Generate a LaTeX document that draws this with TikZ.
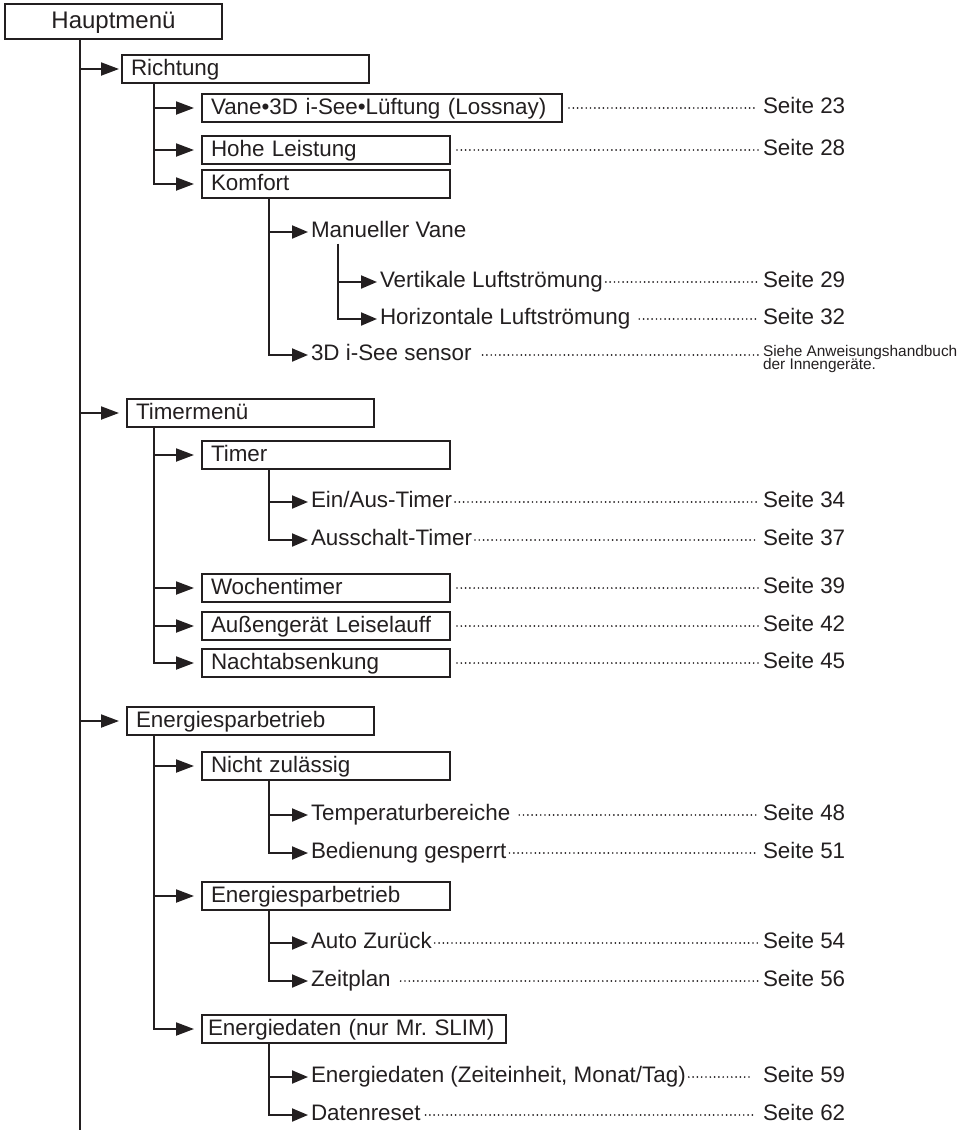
\documentclass[tikz,border=0pt]{standalone}
\usepackage{fontspec}
\setmainfont{Liberation Sans}
\usetikzlibrary{arrows.meta}
\definecolor{ink}{RGB}{35,31,32}

\begin{document}
\begin{tikzpicture}[
    x=0.5pt, y=-0.5pt,
    ink, line width=1pt,
    every node/.style={font=\fontsize{11.2}{13}\selectfont, text=ink},
    mbox/.style={draw, anchor=west, align=left, inner xsep=4.5pt, inner ysep=1.25pt,
        text height=9pt, text depth=2.5pt, text width=#1},
    mbox/.default=115pt,
    leaf/.style={anchor=west, inner sep=0pt, text height=8pt, text depth=2.5pt},
    seite/.style={leaf},
    arr/.style={-{Triangle[length=9pt,width=6.5pt]}, shorten >=3.5pt},
    leafarr/.style={-{Triangle[length=8pt,width=6.5pt]}, shorten >=1pt},
    lead/.style={draw, line width=0.95pt, line cap=round, dash pattern=on 0pt off 2.15pt,
        shorten <=#1, shorten >=2pt},
    lead/.default=1pt]
\useasboundingbox (0,0) rectangle (970,1130);

\coordinate (c0) at (80,0);
\coordinate (c1) at (154,0);
\coordinate (c2) at (269,0);
\coordinate (c3) at (338,0);
\coordinate (trunkend) at (80,1130);

\node[mbox=99.5pt, align=center, inner ysep=3pt, font=\fontsize{12}{14}\selectfont] (hm) at (4,21.5) {Hauptmenü};

\node[mbox=114.5pt] (ri) at (121,69) {Richtung};
\node[mbox=171pt] (vane) at (201,108) {Vane•3D i-See•Lüftung (Lossnay)};
\node[mbox] (hohe) at (201,150) {Hohe Leistung};
\node[mbox] (komf) at (201,184) {Komfort};
\node[leaf] (manv) at (310,232) {Manueller Vane};
\node[leaf] (vert) at (379,282) {Vertikale Luftströmung};
\node[leaf] (hori) at (379,319) {Horizontale Luftströmung};
\node[leaf] (isee) at (310,355) {3D i-See sensor};
\node[anchor=west, inner sep=0pt, align=left, font=\fontsize{7.7}{6.5}\selectfont] (siehe)
    at (762,359) {Siehe Anweisungshandbuch\\[-1.4pt]der Innengeräte.};

\node[mbox=114.5pt] (tmen) at (126,413) {Timermenü};
\node[mbox] (timer) at (201,455) {Timer};
\node[leaf] (einaus) at (310,502) {Ein/Aus-Timer};
\node[leaf] (aussch) at (310,540) {Ausschalt-Timer};
\node[mbox] (woche) at (201,588) {Wochentimer};
\node[mbox] (aussen) at (201,626) {Außengerät Leiselauff};
\node[mbox] (nacht) at (201,663) {Nachtabsenkung};

\node[mbox=114.5pt] (espar) at (126,721) {Energiesparbetrieb};
\node[mbox] (nzul) at (201,766) {Nicht zulässig};
\node[leaf] (temp) at (310,815) {Temperaturbereiche};
\node[leaf] (bedi) at (310,853) {Bedienung gesperrt};
\node[mbox] (espar2) at (201,896) {Energiesparbetrieb};
\node[leaf] (auto) at (310,943) {Auto Zurück};
\node[leaf] (zplan) at (310,981) {Zeitplan};
\node[mbox=146pt, inner xsep=3pt] (edat) at (201,1029) {Energiedaten (nur Mr.\ SLIM)};
\node[leaf] (edzeit) at (310,1077) {Energiedaten (Zeiteinheit, Monat/Tag)};
\node[leaf] (dreset) at (310,1115) {Datenreset};

\foreach \n/\y in {23/108, 28/150, 29/282, 32/319, 34/502, 37/540, 39/588, 42/626,
    45/663, 48/815, 51/853, 54/943, 56/981, 59/1077, 62/1115}
  \node[seite] (p\n) at (762,\y) {Seite \n};

\path[draw] (hm.south -| c0) -- (trunkend);
\path[draw, arr, shorten >=1pt] (ri.west -| c0) -- (ri.west);
\path[draw, arr] (tmen.west -| c0) -- (tmen.west);
\path[draw, arr] (espar.west -| c0) -- (espar.west);

\foreach \b in {vane,hohe} \path[draw, arr] (\b.west -| c1) -- (\b.west);
\path[draw, arr] (ri.south -| c1) |- (komf.west);
\path[draw, leafarr] (manv.west -| c2) -- (manv.west);
\path[draw, leafarr] (komf.south -| c2) |- (isee.west);
\path[draw, leafarr] (vert.west -| c3) -- (vert.west);
\path[draw, leafarr] (manv.south -| c3) |- (hori.west);

\foreach \b in {timer,woche,aussen} \path[draw, arr] (\b.west -| c1) -- (\b.west);
\path[draw, arr] (tmen.south -| c1) |- (nacht.west);
\path[draw, leafarr] (einaus.west -| c2) -- (einaus.west);
\path[draw, leafarr] (timer.south -| c2) |- (aussch.west);

\foreach \b in {nzul,espar2} \path[draw, arr] (\b.west -| c1) -- (\b.west);
\path[draw, arr] (espar.south -| c1) |- (edat.west);
\path[draw, leafarr] (temp.west -| c2) -- (temp.west);
\path[draw, leafarr] (nzul.south -| c2) |- (bedi.west);
\path[draw, leafarr] (auto.west -| c2) -- (auto.west);
\path[draw, leafarr] (espar2.south -| c2) |- (zplan.west);
\path[draw, leafarr] (edzeit.west -| c2) -- (edzeit.west);
\path[draw, leafarr] (edat.south -| c2) |- (dreset.west);

\foreach \a/\n in {vane/23, hohe/28, woche/39, aussen/42, nacht/45}
  \path[lead=3pt] (\a.east) -- (p\n.west);
\foreach \a/\n in {vert/29, einaus/34, aussch/37, bedi/51, auto/54}
  \path[lead] (\a.east) -- (p\n.west);
\path[lead=4pt] (hori.east) -- (p32.west);
\path[lead=4pt] (temp.east) -- (p48.west);
\path[lead=4.5pt] (zplan.east) -- (p56.west);
\path[lead=5pt] (isee.east) -- (isee.east -| siehe.west);
\path[lead, shorten >=4.5pt] (edzeit.east) -- (p59.west);
\path[lead=2pt, shorten >=4.5pt] (dreset.east) -- (p62.west);

\end{tikzpicture}
\end{document}
